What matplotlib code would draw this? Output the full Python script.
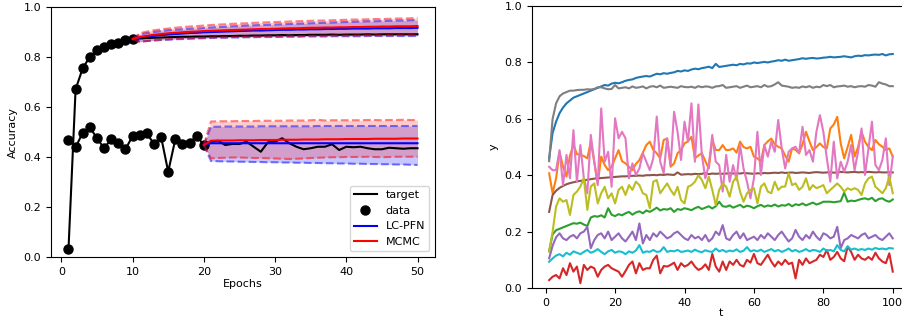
import numpy as np
import matplotlib
matplotlib.use("Agg")
import matplotlib.pyplot as plt

# ---- left panel: learning curve extrapolation ----
epochs_a = np.arange(1, 11)
data_a = [0.03, 0.671, 0.755, 0.801, 0.828, 0.840, 0.853, 0.857, 0.868, 0.872]
epochs_b = np.arange(1, 21)
data_b = [0.469, 0.439, 0.497, 0.519, 0.475, 0.435, 0.472, 0.455, 0.431, 0.484,
          0.487, 0.495, 0.452, 0.481, 0.341, 0.471, 0.452, 0.457, 0.484, 0.448]

# curve a: predictions from epoch 10 to 50
pred_a_x = np.arange(10, 51)
target_a = [0.872, 0.874, 0.876, 0.877, 0.878, 0.879, 0.880, 0.881, 0.881, 0.882, 0.882,
            0.883, 0.883, 0.884, 0.884, 0.885, 0.885, 0.886, 0.886, 0.887, 0.887,
            0.888, 0.887, 0.888, 0.888, 0.889, 0.889, 0.889, 0.890, 0.889, 0.890,
            0.890, 0.890, 0.891, 0.890, 0.891, 0.891, 0.891, 0.891, 0.891, 0.891]
pfn_a = [0.872, 0.878, 0.882, 0.885, 0.888, 0.890, 0.892, 0.894, 0.896, 0.897, 0.899,
         0.900, 0.901, 0.902, 0.903, 0.904, 0.905, 0.906, 0.906, 0.907, 0.908,
         0.909, 0.909, 0.910, 0.910, 0.911, 0.911, 0.912, 0.912, 0.913, 0.913,
         0.914, 0.914, 0.914, 0.915, 0.915, 0.915, 0.916, 0.916, 0.916, 0.917]
pfn_a_hi = [0.872, 0.890, 0.896, 0.900, 0.904, 0.907, 0.909, 0.911, 0.913, 0.914, 0.916,
            0.918, 0.920, 0.921, 0.923, 0.924, 0.926, 0.927, 0.928, 0.929, 0.930,
            0.931, 0.932, 0.933, 0.934, 0.935, 0.936, 0.937, 0.938, 0.939, 0.940,
            0.941, 0.942, 0.943, 0.943, 0.944, 0.945, 0.946, 0.946, 0.947, 0.948]
pfn_a_lo = [0.872, 0.862, 0.864, 0.866, 0.868, 0.869, 0.871, 0.872, 0.873, 0.874, 0.875,
            0.876, 0.877, 0.877, 0.878, 0.878, 0.879, 0.879, 0.880, 0.880, 0.880,
            0.881, 0.881, 0.881, 0.882, 0.882, 0.882, 0.882, 0.883, 0.883, 0.883,
            0.883, 0.883, 0.884, 0.884, 0.884, 0.884, 0.884, 0.884, 0.884, 0.884]
mcmc_a = [0.872, 0.880, 0.885, 0.889, 0.892, 0.895, 0.897, 0.899, 0.901, 0.902, 0.904,
          0.905, 0.906, 0.907, 0.908, 0.909, 0.910, 0.911, 0.912, 0.912, 0.913,
          0.914, 0.915, 0.915, 0.916, 0.917, 0.917, 0.918, 0.918, 0.919, 0.919,
          0.920, 0.920, 0.921, 0.921, 0.922, 0.922, 0.923, 0.923, 0.923, 0.924]
mcmc_a_hi = [0.872, 0.895, 0.902, 0.907, 0.911, 0.914, 0.917, 0.920, 0.922, 0.924, 0.926,
             0.928, 0.930, 0.931, 0.933, 0.934, 0.935, 0.937, 0.938, 0.939, 0.940,
             0.941, 0.942, 0.943, 0.944, 0.945, 0.946, 0.946, 0.947, 0.948, 0.949,
             0.950, 0.950, 0.951, 0.952, 0.952, 0.953, 0.954, 0.954, 0.955, 0.956]
mcmc_a_lo = [0.872, 0.860, 0.864, 0.867, 0.869, 0.871, 0.873, 0.874, 0.875, 0.876, 0.877,
             0.878, 0.879, 0.879, 0.880, 0.881, 0.881, 0.882, 0.882, 0.883, 0.883,
             0.883, 0.884, 0.884, 0.884, 0.885, 0.885, 0.885, 0.886, 0.886, 0.886,
             0.886, 0.887, 0.887, 0.887, 0.887, 0.887, 0.888, 0.888, 0.888, 0.888]

# curve b: predictions from epoch 20 to 50
pred_b_x = np.arange(20, 51)
target_b = [0.448, 0.461, 0.465, 0.448, 0.452, 0.452, 0.461, 0.441, 0.421, 0.459, 0.461,
            0.475, 0.455, 0.441, 0.431, 0.435, 0.441, 0.441, 0.451, 0.428, 0.441,
            0.439, 0.441, 0.435, 0.431, 0.431, 0.437, 0.435, 0.433, 0.435, 0.435]
pfn_b = [0.448, 0.455, 0.455, 0.455, 0.455, 0.455, 0.455, 0.455, 0.455, 0.455, 0.455,
         0.455, 0.455, 0.455, 0.455, 0.455, 0.455, 0.455, 0.455, 0.455, 0.455,
         0.455, 0.455, 0.455, 0.455, 0.455, 0.455, 0.455, 0.455, 0.455, 0.455]
pfn_b_hi = [0.448, 0.521, 0.521, 0.522, 0.522, 0.522, 0.522, 0.522, 0.523, 0.523, 0.523,
            0.523, 0.523, 0.523, 0.523, 0.523, 0.524, 0.524, 0.524, 0.524, 0.524,
            0.524, 0.524, 0.524, 0.524, 0.524, 0.524, 0.524, 0.524, 0.524, 0.524]
pfn_b_lo = [0.448, 0.384, 0.383, 0.382, 0.382, 0.381, 0.381, 0.380, 0.380, 0.379, 0.379,
            0.378, 0.378, 0.377, 0.377, 0.376, 0.376, 0.375, 0.375, 0.374, 0.374,
            0.373, 0.373, 0.372, 0.372, 0.371, 0.371, 0.370, 0.370, 0.369, 0.368]
mcmc_b = [0.448, 0.465, 0.466, 0.466, 0.466, 0.467, 0.467, 0.467, 0.468, 0.468, 0.468,
          0.469, 0.469, 0.469, 0.470, 0.470, 0.470, 0.471, 0.471, 0.471, 0.472,
          0.472, 0.472, 0.472, 0.473, 0.473, 0.473, 0.473, 0.474, 0.474, 0.474]
mcmc_b_hi = [0.448, 0.542, 0.543, 0.543, 0.543, 0.544, 0.544, 0.544, 0.545, 0.545, 0.545,
             0.545, 0.546, 0.546, 0.546, 0.547, 0.549, 0.546, 0.547, 0.547, 0.547,
             0.547, 0.547, 0.548, 0.548, 0.547, 0.548, 0.548, 0.549, 0.548, 0.548]
mcmc_b_lo = [0.448, 0.395, 0.396, 0.397, 0.398, 0.398, 0.397, 0.396, 0.396, 0.395, 0.394,
             0.393, 0.392, 0.393, 0.394, 0.396, 0.397, 0.398, 0.399, 0.399, 0.400,
             0.400, 0.400, 0.401, 0.400, 0.399, 0.400, 0.401, 0.401, 0.401, 0.401]

# ---- right panel: sampled curves ----
t = np.arange(1, 101)
curves = [
    # C0
    [0.46, 0.55, 0.59, 0.62, 0.64, 0.655, 0.665, 0.675, 0.68, 0.685,
     0.69, 0.695, 0.70, 0.705, 0.71, 0.715, 0.72, 0.718, 0.725, 0.728,
     0.726, 0.73, 0.735, 0.738, 0.74, 0.745, 0.748, 0.75, 0.752, 0.75,
     0.755, 0.76, 0.758, 0.762, 0.76, 0.763, 0.765, 0.77, 0.768, 0.772,
     0.77, 0.775, 0.778, 0.776, 0.78, 0.782, 0.785, 0.78, 0.795, 0.784,
     0.786, 0.788, 0.79, 0.792, 0.79, 0.795, 0.793, 0.797, 0.796, 0.80,
     0.798, 0.80, 0.802, 0.80, 0.803, 0.805, 0.808, 0.806, 0.81, 0.806,
     0.808, 0.81, 0.812, 0.815, 0.813, 0.815, 0.816, 0.814, 0.815, 0.817,
     0.818, 0.82, 0.818, 0.819, 0.82, 0.822, 0.82, 0.818, 0.822, 0.824,
     0.823, 0.826, 0.825, 0.827, 0.828, 0.827, 0.83, 0.825, 0.829, 0.83],
    # C1
    [0.407, 0.336, 0.389, 0.483, 0.43, 0.395, 0.47, 0.507, 0.475, 0.472,
     0.468, 0.46, 0.519, 0.448, 0.371, 0.466, 0.436, 0.418, 0.43, 0.46,
     0.489, 0.45, 0.442, 0.43, 0.418, 0.44, 0.454, 0.48, 0.507, 0.519,
     0.49, 0.478, 0.46, 0.525, 0.53, 0.43, 0.442, 0.478, 0.49, 0.513,
     0.52, 0.536, 0.46, 0.47, 0.478, 0.45, 0.424, 0.525, 0.49, 0.489,
     0.507, 0.489, 0.49, 0.495, 0.48, 0.519, 0.50, 0.495, 0.501, 0.466,
     0.46, 0.448, 0.507, 0.52, 0.53, 0.51, 0.501, 0.495, 0.47, 0.448,
     0.495, 0.49, 0.478, 0.51, 0.554, 0.52, 0.489, 0.50, 0.513, 0.50,
     0.495, 0.566, 0.58, 0.607, 0.513, 0.46, 0.50, 0.543, 0.466, 0.50,
     0.554, 0.519, 0.50, 0.489, 0.525, 0.51, 0.501, 0.49, 0.495, 0.466],
    # C2
    [0.13, 0.19, 0.205, 0.21, 0.215, 0.22, 0.225, 0.23, 0.228, 0.232,
     0.225, 0.22, 0.25, 0.255, 0.253, 0.258, 0.25, 0.283, 0.26, 0.255,
     0.262, 0.258, 0.265, 0.27, 0.26, 0.268, 0.272, 0.265, 0.275, 0.27,
     0.277, 0.285, 0.275, 0.28, 0.278, 0.283, 0.27, 0.28, 0.277, 0.283,
     0.28, 0.276, 0.283, 0.288, 0.28, 0.285, 0.29, 0.282, 0.29, 0.306,
     0.29, 0.288, 0.293, 0.285, 0.29, 0.295, 0.286, 0.292, 0.289, 0.283,
     0.29, 0.295, 0.288, 0.293, 0.29, 0.296, 0.289, 0.294, 0.292, 0.298,
     0.29, 0.297, 0.294, 0.30, 0.293, 0.298, 0.303, 0.296, 0.30, 0.306,
     0.306, 0.306, 0.304, 0.306, 0.308, 0.338, 0.306, 0.31, 0.308, 0.312,
     0.316, 0.318, 0.314, 0.32, 0.308, 0.316, 0.318, 0.31, 0.306, 0.314],
    # C3
    [0.028, 0.04, 0.046, 0.034, 0.07, 0.046, 0.088, 0.058, 0.076, 0.017,
     0.082, 0.064, 0.076, 0.07, 0.04, 0.064, 0.076, 0.082, 0.07, 0.064,
     0.058, 0.04, 0.06, 0.082, 0.094, 0.052, 0.088, 0.064, 0.07, 0.07,
     0.10, 0.115, 0.052, 0.078, 0.076, 0.082, 0.09, 0.064, 0.088, 0.076,
     0.082, 0.094, 0.076, 0.064, 0.07, 0.084, 0.064, 0.121, 0.076, 0.058,
     0.094, 0.064, 0.094, 0.082, 0.10, 0.082, 0.076, 0.10, 0.09, 0.121,
     0.088, 0.082, 0.10, 0.118, 0.094, 0.076, 0.094, 0.082, 0.10, 0.085,
     0.09, 0.034, 0.10, 0.082, 0.105, 0.088, 0.094, 0.10, 0.118, 0.11,
     0.135, 0.10, 0.11, 0.128, 0.105, 0.095, 0.147, 0.128, 0.10, 0.118,
     0.105, 0.10, 0.11, 0.10, 0.125, 0.105, 0.094, 0.088, 0.123, 0.058],
    # C4
    [0.105, 0.15, 0.18, 0.194, 0.176, 0.17, 0.182, 0.188, 0.176, 0.194,
     0.20, 0.217, 0.141, 0.17, 0.188, 0.194, 0.176, 0.20, 0.17, 0.182,
     0.194, 0.176, 0.165, 0.182, 0.20, 0.17, 0.229, 0.158, 0.188, 0.17,
     0.194, 0.182, 0.20, 0.188, 0.176, 0.182, 0.194, 0.20, 0.188, 0.176,
     0.17, 0.188, 0.176, 0.182, 0.17, 0.188, 0.165, 0.176, 0.20, 0.188,
     0.223, 0.176, 0.17, 0.188, 0.20, 0.176, 0.194, 0.17, 0.176, 0.182,
     0.17, 0.188, 0.176, 0.194, 0.182, 0.17, 0.188, 0.20, 0.182, 0.165,
     0.176, 0.206, 0.182, 0.17, 0.188, 0.176, 0.20, 0.182, 0.17, 0.194,
     0.188, 0.176, 0.182, 0.217, 0.141, 0.17, 0.176, 0.188, 0.182, 0.176,
     0.188, 0.194, 0.176, 0.182, 0.188, 0.176, 0.17, 0.182, 0.194, 0.176],
    # C5
    [0.27, 0.33, 0.345, 0.355, 0.362, 0.368, 0.372, 0.375, 0.378, 0.38,
     0.382, 0.384, 0.386, 0.388, 0.389, 0.39, 0.391, 0.392, 0.393, 0.394,
     0.395, 0.396, 0.396, 0.397, 0.398, 0.398, 0.399, 0.398, 0.40, 0.40,
     0.401, 0.40, 0.402, 0.401, 0.403, 0.402, 0.401, 0.41, 0.402, 0.403,
     0.404, 0.403, 0.405, 0.404, 0.405, 0.408, 0.404, 0.406, 0.405, 0.406,
     0.405, 0.406, 0.407, 0.406, 0.407, 0.406, 0.408, 0.407, 0.406, 0.405,
     0.407, 0.406, 0.408, 0.407, 0.408, 0.409, 0.408, 0.41, 0.408, 0.409,
     0.41, 0.408, 0.409, 0.41, 0.409, 0.408, 0.41, 0.411, 0.41, 0.409,
     0.41, 0.411, 0.409, 0.41, 0.412, 0.411, 0.41, 0.411, 0.412, 0.41,
     0.411, 0.41, 0.412, 0.411, 0.41, 0.411, 0.41, 0.41, 0.411, 0.41],
    # C6
    [0.43, 0.418, 0.418, 0.489, 0.365, 0.472, 0.389, 0.56, 0.377, 0.507,
     0.389, 0.336, 0.543, 0.448, 0.365, 0.637, 0.448, 0.483, 0.359, 0.602,
     0.531, 0.554, 0.531, 0.389, 0.442, 0.401, 0.424, 0.478, 0.448, 0.418,
     0.46, 0.608, 0.448, 0.407, 0.531, 0.436, 0.625, 0.554, 0.454, 0.59,
     0.519, 0.655, 0.448, 0.651, 0.472, 0.389, 0.436, 0.543, 0.448, 0.436,
     0.342, 0.472, 0.377, 0.436, 0.383, 0.507, 0.424, 0.377, 0.318, 0.389,
     0.554, 0.401, 0.507, 0.466, 0.519, 0.483, 0.596, 0.495, 0.424, 0.483,
     0.495, 0.501, 0.478, 0.572, 0.472, 0.489, 0.448, 0.554, 0.613, 0.554,
     0.46, 0.377, 0.519, 0.389, 0.448, 0.413, 0.448, 0.507, 0.418, 0.483,
     0.566, 0.401, 0.495, 0.59, 0.436, 0.418, 0.454, 0.531, 0.365, 0.466],
    # C7
    [0.45, 0.60, 0.655, 0.68, 0.69, 0.695, 0.70, 0.70, 0.702, 0.703,
     0.703, 0.705, 0.704, 0.706, 0.712, 0.712, 0.708, 0.705, 0.706, 0.72,
     0.708, 0.71, 0.712, 0.708, 0.715, 0.71, 0.712, 0.715, 0.708, 0.714,
     0.716, 0.712, 0.718, 0.71, 0.712, 0.714, 0.712, 0.71, 0.716, 0.713,
     0.712, 0.714, 0.71, 0.716, 0.712, 0.715, 0.714, 0.71, 0.715, 0.716,
     0.72, 0.71, 0.712, 0.714, 0.716, 0.71, 0.714, 0.718, 0.712, 0.714,
     0.716, 0.712, 0.72, 0.714, 0.716, 0.722, 0.73, 0.718, 0.716, 0.714,
     0.71, 0.712, 0.71, 0.715, 0.712, 0.716, 0.71, 0.714, 0.712, 0.72,
     0.716, 0.72, 0.712, 0.715, 0.716, 0.718, 0.714, 0.716, 0.712, 0.715,
     0.716, 0.714, 0.72, 0.718, 0.714, 0.73, 0.725, 0.722, 0.716, 0.716],
    # C8
    [0.13, 0.20, 0.289, 0.318, 0.306, 0.312, 0.259, 0.33, 0.342, 0.36,
     0.389, 0.277, 0.36, 0.371, 0.30, 0.336, 0.359, 0.318, 0.336, 0.30,
     0.348, 0.359, 0.33, 0.365, 0.348, 0.377, 0.365, 0.336, 0.33, 0.283,
     0.377, 0.383, 0.336, 0.354, 0.371, 0.348, 0.33, 0.359, 0.312, 0.30,
     0.359, 0.365, 0.377, 0.40, 0.383, 0.354, 0.395, 0.348, 0.294, 0.348,
     0.371, 0.359, 0.324, 0.377, 0.395, 0.342, 0.306, 0.336, 0.348, 0.354,
     0.30, 0.359, 0.371, 0.342, 0.336, 0.377, 0.348, 0.359, 0.36, 0.407,
     0.365, 0.371, 0.348, 0.359, 0.389, 0.348, 0.365, 0.354, 0.359, 0.365,
     0.336, 0.348, 0.359, 0.371, 0.359, 0.342, 0.354, 0.348, 0.354, 0.348,
     0.33, 0.371, 0.389, 0.395, 0.359, 0.348, 0.336, 0.354, 0.395, 0.336],
    # C9
    [0.093, 0.105, 0.115, 0.12, 0.112, 0.125, 0.118, 0.13, 0.125, 0.12,
     0.128, 0.135, 0.125, 0.13, 0.138, 0.128, 0.12, 0.13, 0.135, 0.125,
     0.13, 0.128, 0.12, 0.13, 0.125, 0.133, 0.152, 0.125, 0.13, 0.128,
     0.135, 0.128, 0.13, 0.145, 0.128, 0.132, 0.13, 0.135, 0.128, 0.13,
     0.133, 0.128, 0.136, 0.13, 0.127, 0.134, 0.13, 0.128, 0.14, 0.13,
     0.135, 0.128, 0.133, 0.13, 0.137, 0.128, 0.132, 0.145, 0.13, 0.134,
     0.13, 0.136, 0.128, 0.133, 0.138, 0.13, 0.135, 0.128, 0.133, 0.14,
     0.13, 0.135, 0.128, 0.132, 0.138, 0.13, 0.135, 0.133, 0.128, 0.14,
     0.132, 0.135, 0.13, 0.152, 0.135, 0.13, 0.148, 0.136, 0.14, 0.135,
     0.138, 0.135, 0.14, 0.136, 0.142, 0.138, 0.14, 0.137, 0.142, 0.14],
]

fig = plt.figure(figsize=(9.03, 3.2), dpi=100)
ax1 = fig.add_axes([0.0565, 0.197, 0.4252, 0.781])
ax2 = fig.add_axes([0.5891, 0.10, 0.4186, 0.881])

fs = 8

# left panel
ax1.plot(epochs_a, data_a, "k-", lw=1.5)
ax1.plot(epochs_b, data_b, "k-", lw=1.5)
ax1.plot(pred_a_x, target_a, "k-", lw=1.5, label="target")
ax1.plot(pred_b_x, target_b, "k-", lw=1.5)
ax1.plot(epochs_a, data_a, "ko", ms=6.5, label="data")
ax1.plot(epochs_b, data_b, "ko", ms=6.5)

for x, m, lo, hi, c, a, lab in [
        (pred_a_x, pfn_a, pfn_a_lo, pfn_a_hi, "blue", 0.22, "LC-PFN"),
        (pred_b_x, pfn_b, pfn_b_lo, pfn_b_hi, "blue", 0.22, None),
        (pred_a_x, mcmc_a, mcmc_a_lo, mcmc_a_hi, "red", 0.2, "MCMC"),
        (pred_b_x, mcmc_b, mcmc_b_lo, mcmc_b_hi, "red", 0.2, None)]:
    ax1.fill_between(x, lo, hi, color=c, alpha=a, lw=0)
    ax1.plot(x, lo, "--", color=c, alpha=0.5, lw=1.5)
    ax1.plot(x, hi, "--", color=c, alpha=0.5, lw=1.5)
    ax1.plot(x, m, "-", color=c, lw=1.5, label=lab)

ax1.set_ylim(0, 1)
ax1.set_xlabel("Epochs", fontsize=fs, labelpad=2)
ax1.set_ylabel("Accuracy", fontsize=fs)
ax1.tick_params(labelsize=fs)
h, l = ax1.get_legend_handles_labels()
order = [l.index(k) for k in ["target", "data", "LC-PFN", "MCMC"]]
ax1.legend([h[i] for i in order], [l[i] for i in order], loc="lower right", fontsize=fs)

# right panel
for i, y in enumerate(curves):
    ax2.plot(t, y, color="C%d" % i, lw=1.5)
ax2.set_ylim(0, 1)
ax2.set_xlabel("t", fontsize=fs, labelpad=0.5)
ax2.set_ylabel("y", fontsize=fs)
ax2.tick_params(labelsize=fs)

fig.savefig("out.png", dpi=100)
